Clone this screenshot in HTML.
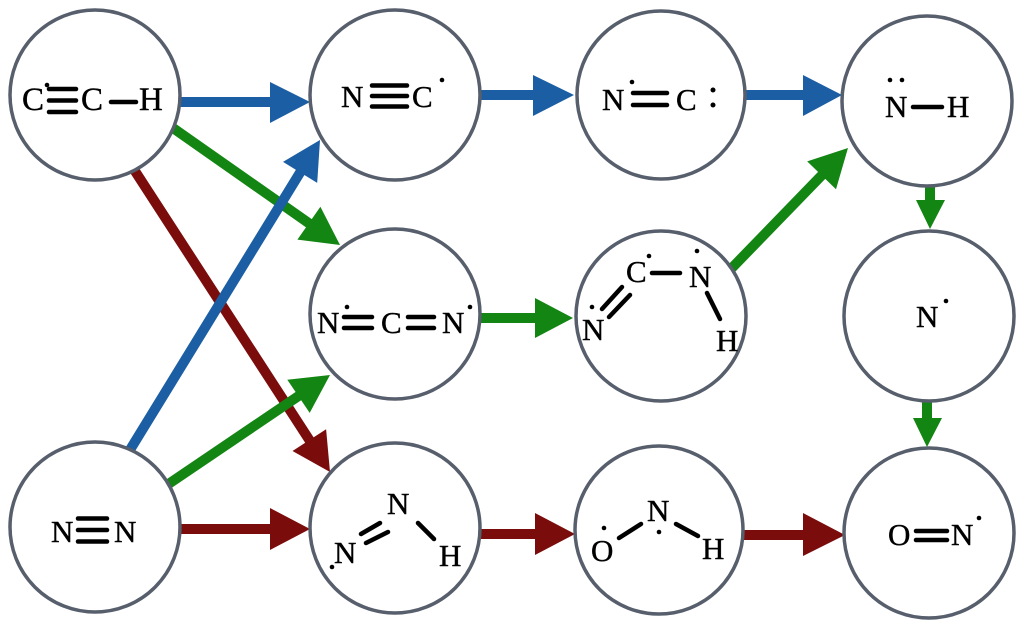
<!DOCTYPE html>
<html><head><meta charset="utf-8"><style>
html,body{margin:0;padding:0;background:#fff;}
svg{display:block;}
text{font-family:"Liberation Serif","DejaVu Serif",serif;fill:#000;stroke:#000;stroke-width:0.4;}
</style></head><body>
<svg width="1029" height="630" viewBox="0 0 1029 630" xmlns="http://www.w3.org/2000/svg">
<rect width="1029" height="630" fill="#fff"/>
<!-- arrows -->
<g stroke-linecap="butt">
  <!-- blue -->
  <line x1="180" y1="102" x2="272" y2="102" stroke="#1b5ea3" stroke-width="10"/>
  <polygon points="270,82 310,102 270,123" fill="#1b5ea3"/>
  <line x1="480" y1="95" x2="535" y2="95" stroke="#1b5ea3" stroke-width="10"/>
  <polygon points="533,75 574,95 533,116" fill="#1b5ea3"/>
  <line x1="745" y1="95" x2="805" y2="95" stroke="#1b5ea3" stroke-width="10"/>
  <polygon points="803,75 842,95 803,116" fill="#1b5ea3"/>
  <!-- green upper diagonal -->
  <line x1="173" y1="128" x2="310" y2="224" stroke="#138513" stroke-width="10"/>
  <polygon points="297.4,239.6 340,245 320.4,206.8" fill="#138513"/>
  <!-- red diagonal -->
  <line x1="133" y1="168" x2="310" y2="441" stroke="#7b0c0c" stroke-width="10"/>
  <polygon points="292.5,451 330,472 326.1,429.2" fill="#7b0c0c"/>
  <!-- blue diagonal -->
  <line x1="125" y1="458" x2="301" y2="171" stroke="#1b5ea3" stroke-width="10"/>
  <polygon points="283,161.9 320,140 317.2,182.9" fill="#1b5ea3"/>
  <!-- green lower diagonal -->
  <line x1="167" y1="485" x2="300" y2="395" stroke="#138513" stroke-width="10"/>
  <polygon points="287.3,379.7 330,375 309.7,412.9" fill="#138513"/>
  <!-- green NCN -> HNCN -->
  <line x1="479" y1="318" x2="537" y2="318" stroke="#138513" stroke-width="10"/>
  <polygon points="535,298 573,318 535,338" fill="#138513"/>
  <!-- green HNCN -> NH -->
  <line x1="728" y1="272" x2="823" y2="174" stroke="#138513" stroke-width="10"/>
  <polygon points="807.2,161.4 848,148 836,189.2" fill="#138513"/>
  <!-- green verticals -->
  <line x1="930" y1="185" x2="930" y2="202" stroke="#138513" stroke-width="10"/>
  <polygon points="916,200 945,200 930,229" fill="#138513"/>
  <line x1="927" y1="401" x2="927" y2="420" stroke="#138513" stroke-width="10"/>
  <polygon points="913,418 942,418 927,447" fill="#138513"/>
  <!-- red horizontals -->
  <line x1="180" y1="529" x2="272" y2="529" stroke="#7b0c0c" stroke-width="10"/>
  <polygon points="270,508 310,529 270,550" fill="#7b0c0c"/>
  <line x1="480" y1="534" x2="537" y2="534" stroke="#7b0c0c" stroke-width="10"/>
  <polygon points="535,513 575,534 535,555" fill="#7b0c0c"/>
  <line x1="742" y1="535" x2="805" y2="535" stroke="#7b0c0c" stroke-width="10"/>
  <polygon points="803,513 845,535 803,556" fill="#7b0c0c"/>
</g>
<!-- circles -->
<g fill="#fff" stroke="#575e6c" stroke-width="3.5">
  <circle cx="95" cy="95" r="85"/>
  <circle cx="395" cy="95" r="85"/>
  <circle cx="661" cy="95" r="84"/>
  <circle cx="927" cy="101" r="85"/>
  <circle cx="395" cy="314" r="85"/>
  <circle cx="661" cy="316" r="85"/>
  <circle cx="929" cy="316" r="85"/>
  <circle cx="95" cy="527" r="85"/>
  <circle cx="395" cy="528" r="85"/>
  <circle cx="659" cy="530" r="84"/>
  <circle cx="929" cy="533" r="85"/>
</g>
<g stroke="#000" stroke-width="4.5" stroke-linecap="round" fill="none">
  <!-- node1 -->
  <line x1="49" y1="89" x2="76" y2="89"/>
  <line x1="49" y1="100.5" x2="76" y2="100.5"/>
  <line x1="49" y1="112" x2="76" y2="112"/>
  <line x1="111" y1="102" x2="136" y2="102"/>
  <!-- node2 -->
  <line x1="372" y1="85.5" x2="407" y2="85.5"/>
  <line x1="372" y1="96" x2="407" y2="96"/>
  <line x1="372" y1="106.5" x2="407" y2="106.5"/>
  <!-- node3 -->
  <line x1="633" y1="93" x2="667" y2="93"/>
  <line x1="633" y1="105" x2="667" y2="105"/>
  <!-- node4 -->
  <line x1="913" y1="107" x2="942" y2="107"/>
  <!-- node5 -->
  <line x1="344" y1="317" x2="372" y2="317"/>
  <line x1="344" y1="328" x2="372" y2="328"/>
  <line x1="408" y1="317" x2="434" y2="317"/>
  <line x1="408" y1="328" x2="434" y2="328"/>
  <!-- node6 -->
  <line x1="602" y1="309" x2="622" y2="287"/>
  <line x1="609" y1="317" x2="630" y2="295"/>
  <line x1="652" y1="273" x2="680" y2="273"/>
  <line x1="707" y1="293" x2="720" y2="319"/>
  <!-- node7 -->
  <line x1="78" y1="518.5" x2="107" y2="518.5"/>
  <line x1="78" y1="530" x2="107" y2="530"/>
  <line x1="78" y1="541.5" x2="107" y2="541.5"/>
  <!-- node8 -->
  <line x1="361" y1="534" x2="380" y2="523"/>
  <line x1="366" y1="543" x2="388" y2="532"/>
  <line x1="418" y1="523" x2="434" y2="539"/>
  <!-- node9 -->
  <line x1="619" y1="538" x2="641" y2="524"/>
  <line x1="676" y1="524" x2="698" y2="536"/>
  <!-- node10 -->
  <line x1="916" y1="531" x2="947" y2="531"/>
  <line x1="916" y1="540" x2="947" y2="540"/>
</g>
<!-- dots -->
<g fill="#000">
  <circle cx="47" cy="85" r="2.3"/>
  <circle cx="442" cy="80" r="2.3"/>
  <circle cx="632" cy="82" r="2.3"/>
  <circle cx="713" cy="90" r="2.5"/>
  <circle cx="713" cy="105" r="2.5"/>
  <circle cx="890" cy="80" r="2.3"/>
  <circle cx="902" cy="80" r="2.3"/>
  <circle cx="347" cy="307" r="2.3"/>
  <circle cx="470" cy="307" r="2.3"/>
  <circle cx="592" cy="307" r="2.3"/>
  <circle cx="649" cy="256" r="2.3"/>
  <circle cx="697" cy="251" r="2.3"/>
  <circle cx="946" cy="301" r="2.3"/>
  <circle cx="332" cy="567" r="2.3"/>
  <circle cx="604" cy="528" r="2.3"/>
  <circle cx="659" cy="532" r="2.3"/>
  <circle cx="979" cy="518" r="2.3"/>
</g>
<!-- labels -->
<g font-size="33">
  <text x="22" y="110">C</text>
  <text x="81" y="110">C</text>
  <text x="139" y="110">H</text>
</g>
<g font-size="31">
  <text x="341" y="107">N</text>
  <text x="412" y="107">C</text>
  <text x="602" y="110">N</text>
  <text x="676" y="110">C</text>
  <text x="885" y="117">N</text>
  <text x="947" y="117">H</text>
  <text x="317" y="333">N</text>
  <text x="381" y="333">C</text>
  <text x="442" y="333">N</text>
  <text x="582" y="340">N</text>
  <text x="626" y="282">C</text>
  <text x="689" y="287">N</text>
  <text x="716" y="351">H</text>
  <text x="916" y="327">N</text>
  <text x="51" y="542">N</text>
  <text x="114" y="542">N</text>
  <text x="334" y="563">N</text>
  <text x="387" y="514">N</text>
  <text x="439" y="566">H</text>
  <text x="591" y="561">O</text>
  <text x="647" y="521">N</text>
  <text x="702" y="559">H</text>
  <text x="888" y="545">O</text>
  <text x="951" y="545">N</text>
</g>
</svg>
</body></html>
